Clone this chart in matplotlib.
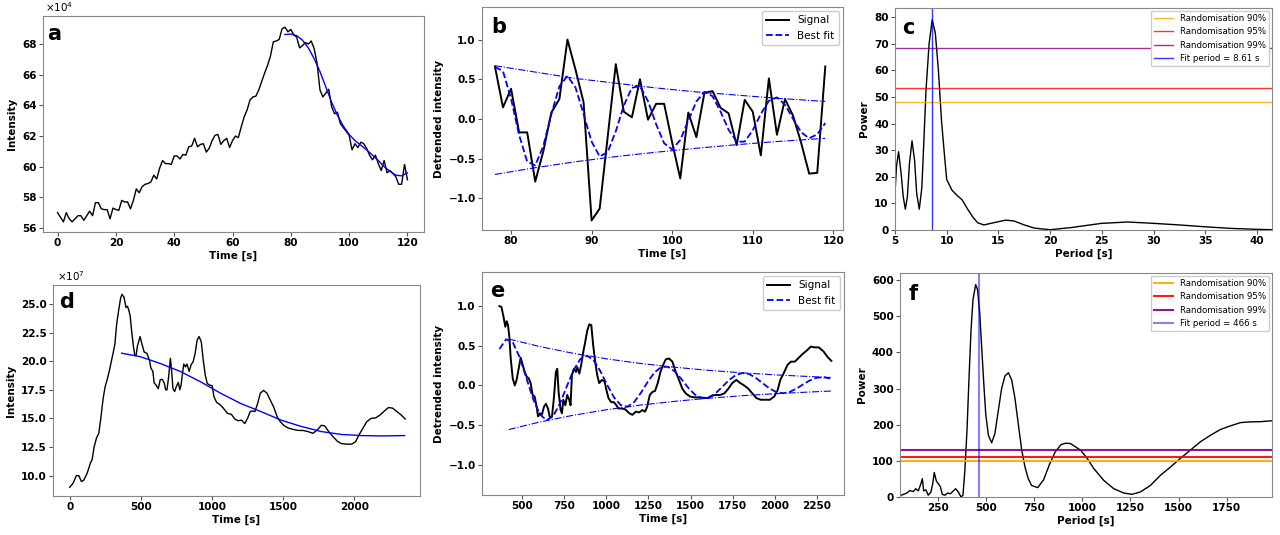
import numpy as np
import matplotlib
matplotlib.use('Agg')
import matplotlib.pyplot as plt

# ---- panel a: raw light curve (units of 1e4) ----
a_cadence = 1.0
a_intensity = [
    57.0, 56.7, 56.4, 57.0, 56.6, 56.4, 56.6, 56.8, 56.8, 56.5,
    56.8, 57.1, 56.8, 57.65, 57.65, 57.25, 57.2, 57.2, 56.6, 57.3,
    57.2, 57.15, 57.8, 57.7, 57.7, 57.25, 57.8, 58.55, 58.3, 58.7,
    58.85, 58.9, 59.0, 59.45, 59.2, 59.9, 60.4, 60.2, 60.2, 60.15,
    60.7, 60.7, 60.5, 60.8, 60.75, 61.3, 61.35, 61.85, 61.3, 61.45,
    61.5, 60.95, 61.2, 61.7, 62.05, 62.1, 61.45, 61.7, 61.85, 61.25,
    61.7, 62.0, 61.9, 62.6, 63.25, 63.7, 64.35, 64.55, 64.6, 65.0,
    65.55, 66.1, 66.6, 67.2, 68.15, 68.2, 68.3, 69.0, 69.1, 68.8,
    68.95, 68.6, 68.45, 67.75, 67.9, 68.1, 68.0, 68.2, 67.7, 66.75,
    65.0, 64.55, 64.8, 65.05, 63.9, 63.45, 63.55, 62.8, 62.55, 62.3,
    62.05, 61.1, 61.5, 61.25, 61.6, 61.5, 61.2, 60.75, 60.45, 60.75,
    60.2, 59.75, 60.4, 59.6, 59.75, 59.55, 59.35, 58.85, 58.85, 60.15,
    59.15]
a_trend_time = [78, 80, 82, 84, 86, 88, 90, 92, 94, 96, 98, 100, 102, 104,
                106, 108, 110, 112, 114, 116, 118, 120]
a_trend = [68.62, 68.65, 68.55, 68.25, 67.75, 67.05, 66.2, 65.2, 64.2, 63.35,
           62.65, 62.1, 61.7, 61.4, 61.1, 60.75, 60.4, 60.0, 59.7, 59.45,
           59.4, 59.6]

# ---- panel b: detrended signal + damped fit ----
b_start = 78
b_signal = [
    0.66, 0.145, 0.38, -0.17, -0.17, -0.79, -0.41, 0.08, 0.25, 1.0,
    0.62, 0.21, -1.28, -1.13, -0.22, 0.69, 0.09, 0.02, 0.50, -0.01,
    0.19, 0.19, -0.30, -0.75, 0.08, -0.23, 0.33, 0.35, 0.14, 0.07,
    -0.33, 0.24, 0.09, -0.46, 0.51, -0.20, 0.25, 0.04, -0.30, -0.69,
    -0.68, 0.66]
b_fit = [
    0.656, 0.60, 0.255, -0.203, -0.537, -0.587, -0.343, 0.059, 0.411, 0.541,
    0.396, 0.062, -0.286, -0.474, -0.417, -0.156, 0.169, 0.393, 0.411, 0.224,
    -0.066, -0.307, -0.384, -0.266, -0.022, 0.220, 0.341, 0.286, 0.092, -0.137,
    -0.287, -0.286, -0.143, 0.063, 0.228, 0.271, 0.177, 0.0, -0.168, -0.244,
    -0.195, -0.052]
b_env_time = [78, 83, 88, 93, 98, 103, 108, 113, 119]
b_env_upper = [0.67, 0.59, 0.51, 0.45, 0.39, 0.34, 0.30, 0.26, 0.22]
b_env_lower = [-0.70, -0.615, -0.54, -0.475, -0.42, -0.37, -0.325, -0.285, -0.245]

# ---- panel c: periodogram ----
c_period = [5.0, 5.15, 5.35, 5.6, 5.8, 6.0, 6.2, 6.4, 6.65, 6.9, 7.1, 7.35,
            7.6, 7.8, 8.0, 8.3, 8.6, 8.9, 9.2, 9.5, 9.8, 10.0, 10.5, 11.0,
            11.5, 12.0, 12.5, 13.0, 13.6, 14.5, 15.7, 16.5, 17.5, 18.5, 20.0,
            22.0, 25.0, 27.5, 30.0, 32.5, 35.0, 37.5, 40.0, 41.5]
c_power = [13.7, 24.0, 29.4, 21.0, 12.5, 7.8, 12.5, 25.0, 33.5, 26.0, 13.7,
           7.8, 16.0, 34.0, 52.5, 70.0, 79.0, 74.0, 60.0, 41.0, 27.5, 19.0,
           15.0, 13.0, 11.3, 8.0, 5.0, 2.7, 1.9, 2.7, 3.7, 3.4, 1.9, 0.7, 0.1,
           0.9, 2.5, 3.0, 2.5, 1.9, 1.2, 0.6, 0.25, 0.1]
c_levels = [48.2, 53.5, 68.2]
c_fit_period = 8.61

# ---- panel d: raw light curve (units of 1e7) ----
d_time = [0, 24, 47, 64, 83, 99, 123, 146, 158, 172, 189, 205, 219, 236, 250,
          264, 278, 295, 307, 318, 330, 344, 358, 368, 382, 396, 406, 415, 425,
          436, 448, 458, 467, 476, 495, 507, 524, 542, 561, 571, 585, 594, 608,
          623, 637, 651, 665, 675, 684, 696, 708, 717, 726, 738, 750, 764, 774,
          783, 792, 802, 814, 825, 840, 854, 868, 882, 896, 910, 925, 939, 953,
          967, 986, 1002, 1014, 1033, 1057, 1080, 1108, 1137, 1160, 1184, 1208,
          1231, 1250, 1269, 1288, 1302, 1321, 1340, 1363, 1387, 1410, 1434,
          1458, 1481, 1509, 1538, 1568, 1604, 1639, 1675, 1710, 1741, 1769,
          1792, 1821, 1851, 1882, 1910, 1946, 1981, 2009, 2033, 2057, 2087,
          2118, 2151, 2182, 2212, 2241, 2269, 2300, 2330, 2358]
d_intensity = [8.98, 9.33, 10.0, 10.0, 9.48, 9.6, 10.2, 11.1, 11.4, 12.5, 13.3,
               13.7, 15.0, 16.8, 17.8, 18.4, 19.1, 20.1, 20.8, 21.5, 23.2, 24.4,
               25.5, 25.85, 25.6, 24.7, 24.8, 24.5, 24.0, 22.6, 21.3, 20.5, 20.5,
               21.3, 22.15, 21.55, 20.8, 20.7, 20.1, 19.4, 19.1, 18.1, 17.9,
               17.6, 18.4, 18.4, 18.1, 17.5, 17.5, 18.65, 20.25, 19.1, 17.6,
               17.35, 17.8, 18.15, 17.5, 17.9, 18.8, 19.75, 19.5, 19.75, 19.1,
               19.7, 19.95, 20.7, 21.85, 22.15, 21.7, 20.1, 18.8, 18.05, 17.9,
               17.85, 16.9, 16.4, 16.2, 15.9, 15.45, 15.35, 14.95, 14.8, 14.85,
               14.55, 15.0, 15.6, 15.65, 15.6, 16.3, 17.2, 17.45, 17.2, 16.6,
               16.0, 15.15, 14.7, 14.35, 14.15, 14.05, 13.95, 13.95, 13.85,
               13.7, 14.0, 14.4, 14.35, 13.85, 13.4, 13.0, 12.8, 12.75, 12.75,
               12.95, 13.55, 14.05, 14.7, 15.0, 15.05, 15.3, 15.65, 15.95,
               15.9, 15.6, 15.3, 14.95]
d_trend_time = [365, 495, 637, 778, 920, 1061, 1203, 1344, 1486, 1627, 1769,
                1910, 2052, 2193, 2354]
d_trend = [20.7, 20.4, 19.8, 19.1, 18.2, 17.2, 16.3, 15.6, 14.85, 14.3, 13.85,
           13.6, 13.5, 13.47, 13.5]

# ---- panel e: detrended signal + damped fit ----
e_time = [366, 378, 389, 401, 409, 417, 425, 433, 445, 457, 468, 480, 492, 504,
          516, 528, 540, 551, 563, 575, 587, 595, 607, 618, 630, 642, 654, 666,
          678, 689, 701, 709, 717, 729, 737, 745, 757, 768, 780, 788, 796, 808,
          820, 828, 840, 851, 863, 875, 887, 899, 911, 922, 934, 946, 958, 974,
          990, 1001, 1013, 1029, 1045, 1060, 1072, 1092, 1112, 1136, 1155,
          1175, 1195, 1214, 1230, 1242, 1258, 1274, 1289, 1305, 1321, 1337,
          1353, 1372, 1392, 1412, 1431, 1451, 1471, 1497, 1522, 1550, 1576,
          1601, 1625, 1649, 1674, 1700, 1724, 1747, 1771, 1795, 1818, 1842,
          1866, 1891, 1917, 1941, 1970, 1996, 2016, 2032, 2051, 2075, 2095,
          2118, 2142, 2166, 2189, 2213, 2236, 2260, 2288, 2312, 2335]
e_signal = [1.0, 0.99, 0.88, 0.74, 0.81, 0.76, 0.61, 0.34, 0.09, 0.0, 0.07,
            0.21, 0.35, 0.26, 0.17, 0.11, 0.09, 0.03, -0.12, -0.14, -0.27,
            -0.39, -0.35, -0.37, -0.27, -0.23, -0.29, -0.41, -0.39, -0.16,
            0.17, 0.21, -0.08, -0.31, -0.35, -0.18, -0.25, -0.12, -0.18,
            -0.25, 0.13, 0.21, 0.17, 0.23, 0.15, 0.26, 0.42, 0.55, 0.69, 0.77,
            0.76, 0.51, 0.30, 0.13, 0.03, 0.07, 0.05, -0.06, -0.16, -0.21,
            -0.21, -0.25, -0.29, -0.29, -0.30, -0.35, -0.37, -0.33, -0.34,
            -0.31, -0.33, -0.27, -0.12, -0.08, -0.07, 0.03, 0.17, 0.26, 0.33,
            0.34, 0.30, 0.17, 0.07, -0.04, -0.10, -0.14, -0.15, -0.15, -0.155,
            -0.16, -0.13, -0.12, -0.12, -0.10, -0.04, 0.03, 0.07, 0.03, 0.0,
            -0.04, -0.10, -0.16, -0.18, -0.18, -0.18, -0.14, -0.06, 0.07,
            0.15, 0.26, 0.30, 0.30, 0.35, 0.40, 0.44, 0.49, 0.48, 0.48, 0.43,
            0.36, 0.31]
e_fit_time = [366, 406, 446, 486, 526, 566, 606, 646, 686, 726, 766, 806, 846,
              886, 926, 966, 1006, 1046, 1086, 1126, 1166, 1206, 1246, 1286,
              1326, 1366, 1406, 1446, 1486, 1526, 1566, 1606, 1646, 1686, 1726,
              1766, 1806, 1846, 1886, 1926, 1966, 2006, 2046, 2086, 2126, 2166,
              2206, 2246, 2286, 2326]
e_fit = [0.459, 0.582, 0.540, 0.357, 0.094, -0.170, -0.364, -0.439, -0.383,
         -0.223, -0.010, 0.194, 0.333, 0.375, 0.314, 0.176, 0.004, -0.151,
         -0.249, -0.267, -0.207, -0.090, 0.047, 0.165, 0.232, 0.235, 0.177,
         0.079, -0.029, -0.116, -0.161, -0.155, -0.102, -0.021, 0.064, 0.128,
         0.157, 0.145, 0.097, 0.031, -0.034, -0.081, -0.098, -0.083, -0.042,
         0.012, 0.062, 0.096, 0.105, 0.088]
e_env_time = [421, 600, 800, 1000, 1200, 1400, 1600, 1800, 2000, 2200, 2335]
e_env_upper = [0.586, 0.493, 0.407, 0.336, 0.278, 0.231, 0.192, 0.160, 0.134,
               0.113, 0.100]
e_env_lower = [-0.556, -0.463, -0.377, -0.306, -0.248, -0.201, -0.162, -0.130,
               -0.104, -0.083, -0.070]

# ---- panel f: periodogram ----
f_period = [54, 71, 89, 106, 123, 136, 149, 163, 170, 177, 188, 201, 215, 224,
            232, 243, 253, 264, 274, 288, 302, 316, 329, 343, 357, 371, 381,
            391, 402, 412, 423, 433, 447, 457, 468, 478, 489, 499, 513, 530,
            547, 565, 582, 599, 617, 634, 651, 669, 686, 703, 720, 737, 769,
            800, 830, 860, 890, 915, 939, 991, 1026, 1060, 1112, 1164, 1216,
            1259, 1302, 1354, 1406, 1458, 1510, 1562, 1614, 1666, 1718, 1770,
            1822, 1874, 1926, 1985]
f_power = [4, 7, 11, 18, 15, 23, 17, 37, 51, 17, 20, 5, 14, 37, 68, 44, 37, 28,
           7, 5, 11, 9, 16, 23, 14, 0, 5, 74, 185, 324, 463, 546, 588, 574, 509,
           417, 315, 231, 171, 150, 176, 241, 301, 335, 344, 324, 273, 199, 130,
           83, 51, 32, 26, 48, 90, 125, 145, 149, 148, 130, 107, 79, 46, 23, 11,
           7.5, 14, 32, 60, 83, 107, 130, 153, 171, 187, 197, 206, 208, 208.5,
           211]
f_levels = [101.0, 109.5, 129.7]
f_fit_period = 466

level_names = ['Randomisation 90%', 'Randomisation 95%', 'Randomisation 99%']
level_colors = ['orange', 'red', 'purple']

TICK_FS = 7.5
LABEL_FS = 7.5
LETTER_FS = 15

fig = plt.figure(figsize=(12.8, 5.35), dpi=100)


def style(ax, xlabel, ylabel):
    for sp in ax.spines.values():
        sp.set_color('#888888')
    ax.tick_params(labelsize=TICK_FS, color='#555555', length=3, pad=1.5)
    for lab in ax.get_xticklabels() + ax.get_yticklabels():
        lab.set_fontweight('bold')
    ax.set_xlabel(xlabel, fontsize=LABEL_FS, fontweight='bold', labelpad=2)
    ax.set_ylabel(ylabel, fontsize=LABEL_FS, fontweight='bold', labelpad=3.5)


def letter(ax, s, x, y):
    ax.text(x, y, s, transform=ax.transAxes, fontsize=LETTER_FS,
            fontweight='bold', va='top', ha='left')


# a
ax = fig.add_axes([0.0336, 0.5664, 0.2977, 0.4037])
a_time = np.arange(len(a_intensity)) * a_cadence
ax.plot(a_time, a_intensity, color='black', lw=1.0)
ax.plot(a_trend_time, a_trend, color='blue', lw=1.0)
ax.set_xlim(-5, 125.7)
ax.set_ylim(55.74, 69.83)
ax.set_xticks(range(0, 121, 20))
ax.set_yticks(range(56, 69, 2))
style(ax, 'Time [s]', 'Intensity')
ax.text(0.005, 1.01, r'$\times10^{4}$', transform=ax.transAxes,
        fontsize=7.5, va='bottom', ha='left')
letter(ax, 'a', 0.012, 0.965)

# b
ax = fig.add_axes([0.3766, 0.5701, 0.2820, 0.4168])
b_time = np.arange(len(b_signal)) + b_start
ax.plot(b_time, b_signal, color='black', lw=1.4, label='Signal')
ax.plot(b_time, b_fit, color='blue', lw=1.3, ls='--', label='Best fit')
ax.plot(b_env_time, b_env_upper, color='blue', lw=0.8, ls='-.')
ax.plot(b_env_time, b_env_lower, color='blue', lw=0.8, ls='-.')
ax.set_xlim(76.4, 121.2)
ax.set_ylim(-1.40, 1.41)
ax.set_xticks(range(80, 121, 10))
ax.set_yticks([-1.0, -0.5, 0.0, 0.5, 1.0])
style(ax, 'Time [s]', 'Detrended intensity')
ax.legend(loc='upper right', fontsize=7.5, handlelength=2.2,
          borderaxespad=0.4, framealpha=1)
letter(ax, 'b', 0.025, 0.955)

# c
ax = fig.add_axes([0.6992, 0.5701, 0.2945, 0.4150])
ax.plot(c_period, c_power, color='black', lw=1.0)
for lev, name, col in zip(c_levels, level_names, level_colors):
    ax.axhline(lev, color=col, lw=1.0, alpha=0.8, label=name)
ax.axvline(c_fit_period, color='blue', lw=1.0, alpha=0.8,
           label='Fit period = %.2f s' % c_fit_period)
ax.set_xlim(5, 41.45)
ax.set_ylim(0, 83.4)
ax.set_xticks(range(5, 41, 5))
ax.set_yticks(range(0, 81, 10))
style(ax, 'Period [s]', 'Power')
ax.legend(loc='upper right', fontsize=6.2, handlelength=2.2,
          borderaxespad=0.3, framealpha=1)
letter(ax, 'c', 0.02, 0.955)

# d
ax = fig.add_axes([0.0414, 0.0729, 0.2867, 0.3944])
ax.plot(d_time, d_intensity, color='black', lw=1.0)
ax.plot(d_trend_time, d_trend, color='blue', lw=1.0)
ax.set_xlim(-117, 2462)
ax.set_ylim(8.22, 26.66)
ax.set_xticks(range(0, 2001, 500))
ax.set_yticks([10.0, 12.5, 15.0, 17.5, 20.0, 22.5, 25.0])
style(ax, 'Time [s]', 'Intensity')
ax.text(0.01, 1.01, r'$\times10^{7}$', transform=ax.transAxes,
        fontsize=7.5, va='bottom', ha='left')
letter(ax, 'd', 0.018, 0.965)

# e
ax = fig.add_axes([0.3766, 0.0748, 0.2828, 0.4168])
ax.plot(e_time, e_signal, color='black', lw=1.4, label='Signal')
ax.plot(e_fit_time, e_fit, color='blue', lw=1.3, ls='--', label='Best fit')
ax.plot(e_env_time, e_env_upper, color='blue', lw=0.8, ls='-.')
ax.plot(e_env_time, e_env_lower, color='blue', lw=0.8, ls='-.')
ax.set_xlim(263, 2410)
ax.set_ylim(-1.38, 1.43)
ax.set_xticks(range(500, 2251, 250))
ax.set_yticks([-1.0, -0.5, 0.0, 0.5, 1.0])
style(ax, 'Time [s]', 'Detrended intensity')
ax.legend(loc='upper right', fontsize=7.5, handlelength=2.2,
          borderaxespad=0.4, framealpha=1)
letter(ax, 'e', 0.022, 0.96)

# f
ax = fig.add_axes([0.7031, 0.0710, 0.2906, 0.4187])
ax.plot(f_period, f_power, color='black', lw=1.0)
for lev, name, col in zip(f_levels, level_names, level_colors):
    ax.axhline(lev, color=col, lw=1.5, alpha=0.9, label=name)
ax.axvline(f_fit_period, color='blue', lw=1.5, alpha=0.5,
           label='Fit period = %d s' % f_fit_period)
ax.set_xlim(54, 1985)
ax.set_ylim(0, 620)
ax.set_xticks(range(250, 1751, 250))
ax.set_yticks(range(0, 601, 100))
style(ax, 'Period [s]', 'Power')
ax.legend(loc='upper right', fontsize=6.2, handlelength=2.2,
          borderaxespad=0.3, framealpha=1)
letter(ax, 'f', 0.024, 0.95)

fig.savefig('out.png', dpi=100)
